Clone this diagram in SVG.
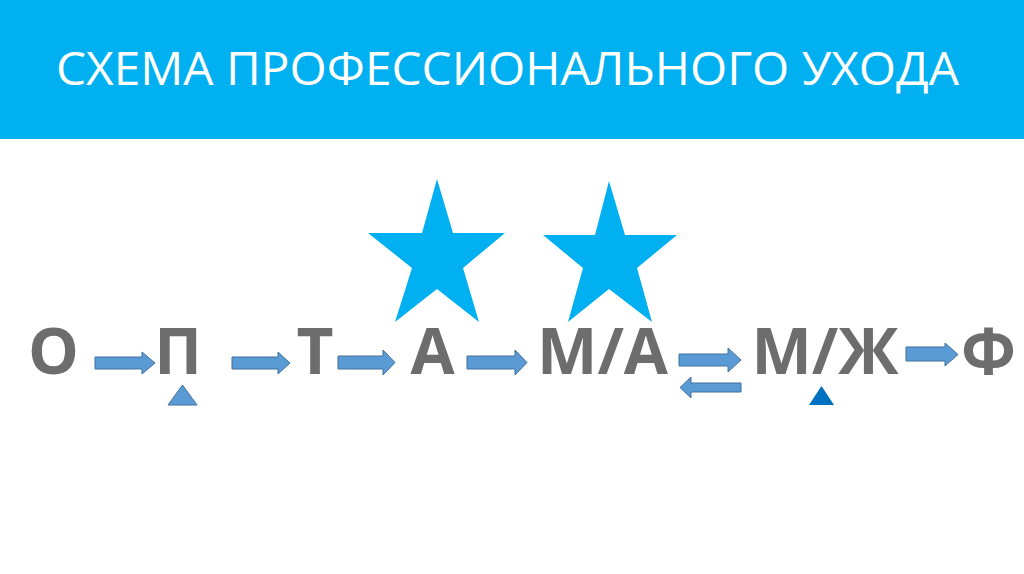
<svg xmlns="http://www.w3.org/2000/svg" width="1024" height="574" viewBox="0 0 1024 574">
<style>
.lbl{font-family:"Open Sans","DejaVu Sans",sans-serif;font-weight:700;font-size:64px;fill:#6d6d6d;text-anchor:middle}
.arr{fill:#5b9bd5;stroke:#41719c;stroke-width:1}
.star{fill:#00b0f0}
.title{font-family:"Open Sans","DejaVu Sans",sans-serif;font-size:45px;fill:#ffffff}
</style>
<rect x="0" y="0" width="1024" height="574" fill="#ffffff"/>
<g id="header">
<rect x="0" y="0" width="1024" height="139" fill="#00b0f0"/>
<text class="title" x="56" y="85" textLength="903" lengthAdjust="spacingAndGlyphs">СХЕМА ПРОФЕССИОНАЛЬНОГО УХОДА</text>
</g>
<g id="stars">
<polygon class="star" points="437,179 453,233 505,233 463,268 479,322 437,289 395,322 412,268 368,233 422,233"/>
<polygon class="star" points="609,181 625,235 677,235 637,268 652,322 609,289 568,322 583,268 543,235 595,235"/>
</g>
<g id="node-O"><text class="lbl" x="53.5" y="374">О</text></g>
<g id="node-P"><text class="lbl" x="178" y="374">П</text>
<polygon points="168,405 197,405 182.5,385" fill="#5b9bd5" stroke="#41719c" stroke-width="1"/></g>
<g id="node-T"><text class="lbl" x="315" y="374">Т</text></g>
<g id="node-A"><text class="lbl" x="432.5" y="374">А</text></g>
<g id="node-MA"><text class="lbl" x="602.5" y="374">М/А</text></g>
<g id="node-MZh"><text class="lbl" x="825" y="374">М/Ж</text>
<polygon points="809,405 834,405 821.5,386" fill="#0070c0"/></g>
<g id="node-F"><text class="lbl" x="988.5" y="374">Ф</text></g>
<g id="connectors">
<polygon class="arr" points="95,357 142,357 142,352 155,363 142,374 142,369 95,369"/>
<polygon class="arr" points="232,357 278,357 278,352 290,363 278,374 278,369 232,369"/>
<polygon class="arr" points="338,356 383,356 383,350 395,362.5 383,375 383,369 338,369"/>
<polygon class="arr" points="467,356 515,356 515,350 527,362.5 515,375 515,369 467,369"/>
<polygon class="arr" points="679,354 728,354 728,348 741,360 728,372 728,366 679,366"/>
<polygon class="arr" points="741,383 691,383 691,377 680,387.5 691,398 691,392 741,392"/>
<polygon class="arr" points="906,347 945,347 945,343 958,354.5 945,366 945,361 906,361"/>
</g>
</svg>
